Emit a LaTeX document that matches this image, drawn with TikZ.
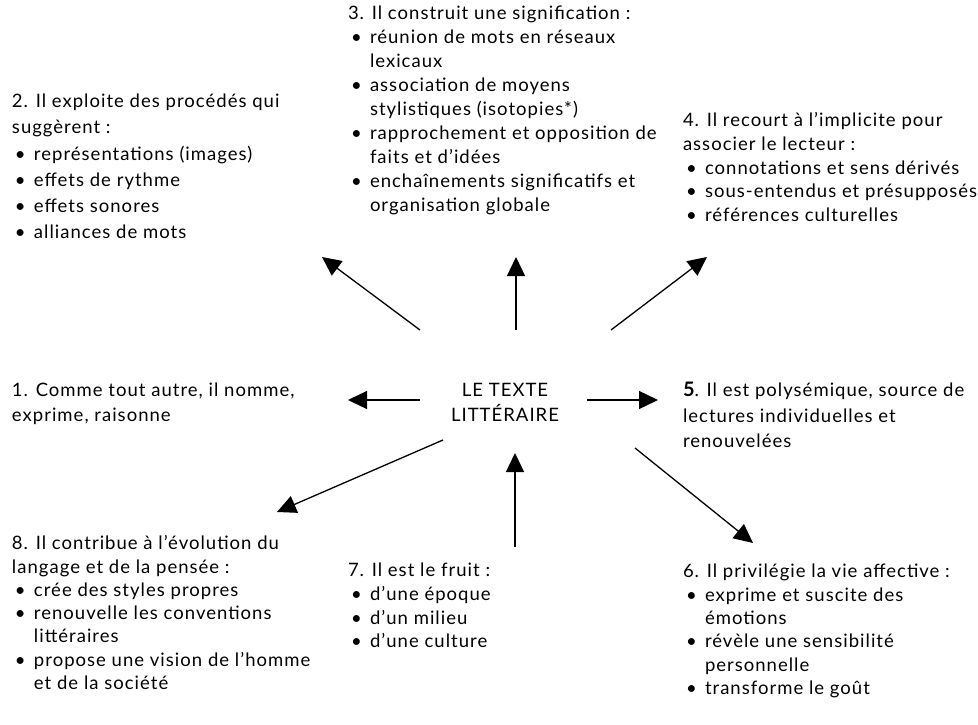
\documentclass[tikz,border=0pt]{standalone}
\usepackage{fontspec}
\setmainfont{Lato}[LetterSpace=5.5]
\usetikzlibrary{arrows.meta}
\newcommand{\blk}[1]{\makebox[22pt][l]{\hspace{3pt}•}#1}
\newcommand{\cnt}[1]{\hspace*{22pt}#1}
\begin{document}
\begin{tikzpicture}[x=1pt,y=-1pt,
  txt/.style={inner sep=0pt,outer sep=0pt,align=left,anchor=north west,text=black},
  arr/.style={line width=1.3pt,-{Triangle[length=19pt,width=18pt]}}]
\useasboundingbox[fill=white] (0,0) rectangle (978,725);
% blocks
\node[txt,font={\fontsize{18.5}{24}\selectfont}] (b3) at (348,2.9) {\strut 3. Il construit une signification :\\
\blk{réunion de mots en réseaux}\\ \cnt{lexicaux}\\
\blk{association de moyens}\\ \cnt{stylistiques (isotopies*)}\\
\blk{rapprochement et opposition de}\\ \cnt{faits et d’idées}\\
\blk{enchaînements significatifs et}\\ \cnt{organisation globale}};
\node[txt,font={\fontsize{18.5}{26.2}\selectfont}] (b2) at (12,89.4) {\strut 2. Il exploite des procédés qui\\ suggèrent :\\
\blk{représentations (images)}\\ \blk{effets de rythme}\\ \blk{effets sonores}\\ \blk{alliances de mots}};
\node[txt,font={\fontsize{18.5}{23.75}\selectfont}] (b4) at (683,110.1) {\strut 4. Il recourt à l’implicite pour\\ associer le lecteur :\\
\blk{connotations et sens dérivés}\\ \blk{sous-entendus et présupposés}\\ \blk{références culturelles}};
\node[txt,font={\fontsize{18.5}{25}\selectfont}] (b1) at (12,379.2) {\strut 1. Comme tout autre, il nomme,\\ exprime, raisonne};
\node[txt,align=center,anchor=north,font={\fontsize{18.5}{25}\selectfont}] (c) at (505,379.2) {\strut LE TEXTE\\ LITTÉRAIRE};
\node[txt,font={\fontsize{18.5}{25.5}\selectfont}] (b5) at (683,378.8) {\strut {\fontsize{20}{25.5}\selectfont\bfseries 5}. Il est polysémique, source de\\ lectures individuelles et\\ renouvelées};
\node[txt,font={\fontsize{18.5}{23.3}\selectfont}] (b8) at (12,533.4) {\strut 8. Il contribue à l’évolution du\\ langage et de la pensée :\\
\blk{crée des styles propres}\\ \blk{renouvelle les conventions}\\ \cnt{littéraires}\\
\blk{propose une vision de l’homme}\\ \cnt{et de la société}};
\node[txt,font={\fontsize{18.5}{23.7}\selectfont}] (b7) at (348,560.1) {\strut 7. Il est le fruit :\\
\blk{d’une époque}\\ \blk{d’un milieu}\\ \blk{d’une culture}};
\node[txt,font={\fontsize{18.5}{23.4}\selectfont}] (b6) at (683,561.3) {\strut 6. Il privilégie la vie affective :\\
\blk{exprime et suscite des}\\ \cnt{émotions}\\
\blk{révèle une sensibilité}\\ \cnt{personnelle}\\
\blk{transforme le goût}};
% arrow end points
\coordinate (s2) at (420,330); \coordinate (e2) at (322,257);
\coordinate (s3) at (516,330); \coordinate (e3) at (516,257);
\coordinate (s4) at (611,330); \coordinate (e4) at (707,257);
\coordinate (s1) at (420,400); \coordinate (e1) at (348,400);
\coordinate (s5) at (587,400); \coordinate (e5) at (658,400);
\coordinate (s8) at (443,440); \coordinate (e8) at (277,512);
\coordinate (s7) at (515,547); \coordinate (e7) at (515,453);
\coordinate (s6) at (635,448); \coordinate (e6) at (753,543);
\foreach \i in {1,...,8} {\draw[arr] (s\i) -- (e\i);}
\end{tikzpicture}
\end{document}
